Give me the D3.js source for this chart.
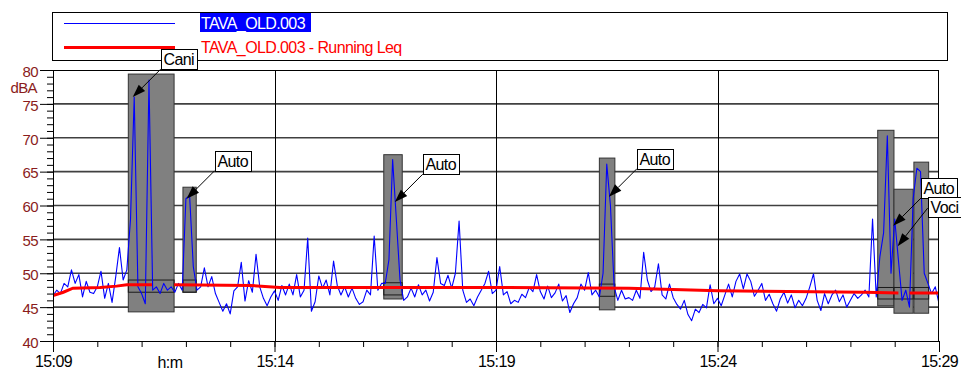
<!DOCTYPE html>
<html><head><meta charset="utf-8">
<script src="https://cdn.jsdelivr.net/npm/d3@7"></script>
<style>
body{margin:0;background:#fff}
svg{display:block}
text{font-family:'Liberation Sans',Arial,sans-serif}
</style>
</head><body><svg id="c" width="961" height="372"></svg>
<script>
// ---------------- DATA ----------------
const seriesName = "TAVA_OLD.003";
const leqName = "TAVA_OLD.003 - Running Leq";
const startClock = "15:09:00";
const endClock = "15:29:00";
const sampleSeconds = 5;
// LAeq samples (dBA), one per 5 s, per minute
const lv1509 = [46.7,47.5,47.0,48.5,48.0,50.5,48.5,49.8,46.5,48.8,47.2,47.0];
const lv1510 = [48.0,50.3,46.3,48.5,45.7,49.5,53.8,49.0,50.5,58.0,76.0,48.0];
const lv1511 = [47.0,45.5,78.5,47.5,48.0,47.0,48.5,47.5,48.0,47.2,48.5,47.5];
const lv1512 = [61.0,61.5,51.0,47.5,48.0,50.8,48.0,49.5,47.0,45.7,44.4,45.5];
const lv1513 = [44.0,47.4,48.0,51.6,45.9,48.9,47.2,52.8,48.0,46.3,45.2,46.5];
const lv1514 = [47.4,46.0,48.2,46.8,48.4,46.8,49.8,46.5,47.5,55.2,44.4,45.8];
const lv1515 = [49.6,47.8,49.0,46.8,51.8,48.2,46.8,48.0,46.5,47.8,46.3,45.4];
const lv1516 = [45.8,47.5,46.8,55.5,47.5,48.5,48.5,52.0,66.8,58.0,49.0,46.0];
const lv1517 = [46.5,47.8,46.5,48.3,46.8,47.5,45.9,47.2,52.3,48.5,48.2,49.7];
const lv1518 = [47.8,50.0,57.7,47.5,45.7,46.2,45.2,46.5,47.5,48.5,50.3,47.0];
const lv1519 = [47.5,51.0,46.8,47.3,45.5,46.0,45.7,46.9,46.4,47.9,47.3,49.8];
const lv1520 = [47.3,46.2,48.1,46.4,47.1,48.4,45.9,46.7,44.2,45.5,46.4,48.4];
const lv1521 = [47.5,50.1,46.8,47.5,46.5,50.0,66.1,60.0,48.0,46.0,47.5,46.2];
const lv1522 = [46.4,46.0,47.5,46.3,53.1,49.0,47.3,48.0,51.4,46.8,46.2,48.4];
const lv1523 = [46.4,45.4,44.7,46.0,43.9,43.0,44.7,44.2,45.4,44.9,48.3,45.5];
const lv1524 = [46.3,45.2,46.8,48.4,46.5,48.8,49.9,47.7,49.9,48.8,46.6,47.5];
const lv1525 = [48.5,46.0,46.9,45.5,44.4,46.2,47.2,45.6,46.8,44.9,46.0,45.2];
const lv1526 = [46.3,48.0,49.9,46.0,44.5,47.0,45.5,46.8,47.5,45.8,46.8,45.0];
const lv1527 = [46.0,47.0,46.3,46.8,47.5,46.5,58.0,46.5,52.5,56.0,70.3,50.0];
const lv1528 = [58.0,52.0,46.0,47.5,45.0,61.0,65.5,65.0,50.0,48.5,47.0,48.0];
const lv1529 = [45.5];

// Running Leq (seconds from start, dBA); null = excluded
const leqSeconds = [0,14,27,64,86,100,134,135,163,164,267,307,600,780,900,1100,1145,1146,1159,1160,1200];
const leqValues  = [46.7,47.2,47.8,47.9,48.1,48.3,48.3,null,null,48.3,48.2,47.9,47.9,47.8,47.4,47.2,47.1,null,null,47.1,47.1];

// Marked events
const eventNames  = ["Cani","Auto","Auto","Auto","Auto","Voci","Auto"];
const eventStarts = ["15:10:42","15:11:56","15:16:28","15:21:20","15:27:37","15:27:59","15:28:26"];
const eventEnds   = ["15:11:44","15:12:14","15:16:53","15:21:41","15:27:59","15:28:25","15:28:46"];
const eventMax    = [79.4,62.7,67.5,67.0,71.1,62.4,66.4];
const eventMin    = [44.3,47.2,46.2,44.6,45.2,44.1,44.1];
const eventLeqHi  = [49.0,49.0,48.6,48.4,47.9,47.9,47.9];
const eventLeqLo  = [47.2,47.2,46.8,46.6,46.2,46.2,46.2];

// Callout labels
const calloutLabels = ["Cani","Auto","Auto","Auto","Auto","Voci"];
const calloutTimes  = ["15:10:48","15:12:01","15:16:43","15:21:33","15:27:58","15:28:04"];
const calloutLevels = [76.0,61.0,60.5,61.3,57.0,54.0];

const yMajorTicks = [40,45,50,55,60,65,70,75,80];
const xLabelTicks = ["15:09","15:14","15:19","15:24","15:29"];
const yUnit = "dBA";
const xUnit = "h:m";

// ---------------- CHART ----------------
const parse = s => { const p = s.split(":").map(Number); return new Date(2000,0,1,p[0],p[1],p[2]||0); };
const t0 = parse(startClock), t1 = parse(endClock);
const levels = [].concat(lv1509,lv1510,lv1511,lv1512,lv1513,lv1514,lv1515,lv1516,lv1517,lv1518,lv1519,lv1520,lv1521,lv1522,lv1523,lv1524,lv1525,lv1526,lv1527,lv1528,lv1529);
const series = levels.map((v,i)=>({t:new Date(+t0 + i*sampleSeconds*1000), v}));
const leq = leqSeconds.map((s,i)=>({t:new Date(+t0 + s*1000), v:leqValues[i]}));

const L=53, R=939, T=70, B=341;
const x = d3.scaleTime().domain([t0,t1]).range([L,R]);
const y = d3.scaleLinear().domain([40,80]).range([B,T]);
const svg = d3.select("#c");
const darkRed = "#8a1c1c";
const FONT_ST = "-0.6px";

// legend
const lg = svg.append("g");
lg.append("rect").attr("x",52.5).attr("y",12.5).attr("width",895).attr("height",48)
  .attr("fill","#fff").attr("stroke","#000");
lg.append("line").attr("x1",64).attr("x2",175).attr("y1",23.5).attr("y2",23.5).attr("stroke","#0000ff").attr("stroke-width",1);
lg.append("rect").attr("x",200).attr("y",13).attr("width",111).attr("height",19).attr("fill","#0000ff");
lg.append("text").attr("x",201).attr("y",29).attr("fill","#fff").attr("font-size",16).attr("letter-spacing",FONT_ST).text(seriesName);
lg.append("line").attr("x1",64).attr("x2",175).attr("y1",47.5).attr("y2",47.5).attr("stroke","#ff0000").attr("stroke-width",3);
lg.append("text").attr("x",201).attr("y",53).attr("fill","#ff0000").attr("font-size",16).attr("letter-spacing",FONT_ST).text(leqName);

// plot background
svg.append("rect").attr("x",L).attr("y",T).attr("width",R-L).attr("height",B-T).attr("fill","#fff");

// horizontal grid
svg.append("g").selectAll("line").data(yMajorTicks.filter(v=>v>40&&v<80)).join("line")
  .attr("x1",L).attr("x2",R).attr("y1",d=>y(d)).attr("y2",d=>y(d))
  .attr("stroke","#404040").attr("stroke-width",1.6);
// vertical grid
const xLabDates = xLabelTicks.map(parse);
svg.append("g").selectAll("line").data(xLabDates.slice(1,-1)).join("line")
  .attr("x1",d=>Math.round(x(d))+0.5).attr("x2",d=>Math.round(x(d))+0.5).attr("y1",T).attr("y2",B)
  .attr("stroke","#000").attr("stroke-width",1);

// events
const evg = svg.append("g");
eventNames.forEach((n,i)=>{
  const xa = x(parse(eventStarts[i])), xb = x(parse(eventEnds[i]));
  evg.append("rect").attr("x",xa).attr("y",y(eventMax[i])).attr("width",xb-xa).attr("height",y(eventMin[i])-y(eventMax[i]))
    .attr("fill","#808080").attr("stroke","#333").attr("stroke-width",1);
  evg.append("rect").attr("x",xa).attr("y",y(eventLeqHi[i])).attr("width",xb-xa).attr("height",y(eventLeqLo[i])-y(eventLeqHi[i]))
    .attr("fill","none").attr("stroke","#1a1a1a").attr("stroke-width",1);
});

// clip
svg.append("clipPath").attr("id","pc").append("rect").attr("x",L).attr("y",T).attr("width",R-L).attr("height",B-T);

// blue series
svg.append("path").datum(series).attr("clip-path","url(#pc)")
  .attr("d",d3.line().x(d=>x(d.t)).y(d=>y(d.v)))
  .attr("fill","none").attr("stroke","#0000ff").attr("stroke-width",1.1).attr("stroke-linejoin","round");
// running leq
svg.append("path").datum(leq).attr("clip-path","url(#pc)")
  .attr("d",d3.line().defined(d=>d.v!=null).x(d=>x(d.t)).y(d=>y(d.v)))
  .attr("fill","none").attr("stroke","#ff0000").attr("stroke-width",3);

// frame
svg.append("rect").attr("x",L+0.5).attr("y",T+0.5).attr("width",R-L-1).attr("height",B-T)
  .attr("fill","none").attr("stroke","#000");

// y axis: minor + major
const yMinor = d3.range(40,81,1);
svg.append("g").attr("transform",`translate(${L},0)`)
  .call(d3.axisLeft(y).tickValues(yMinor).tickSize(6).tickFormat(""))
  .call(g=>{g.select(".domain").remove(); g.selectAll("line").attr("stroke","#000");});
const yax = svg.append("g").attr("transform",`translate(${L},0)`)
  .call(d3.axisLeft(y).tickValues(yMajorTicks).tickSize(13).tickPadding(2).tickFormat(d3.format("d")));
yax.select(".domain").attr("stroke","#000");
yax.selectAll("line").attr("stroke","#000");
yax.selectAll("text").attr("fill",darkRed).attr("font-size",15).attr("letter-spacing",FONT_ST)
  .attr("font-family","'Liberation Sans',Arial,sans-serif").attr("dy","0.42em");
svg.append("text").attr("x",37).attr("y",93).attr("text-anchor","end").attr("fill",darkRed)
  .attr("font-size",15).attr("letter-spacing",FONT_ST).text(yUnit);

// x axis
const xMinor = d3.range(0,21).map(m=>new Date(+t0 + m*60000));
svg.append("g").attr("transform",`translate(0,${B})`)
  .call(d3.axisBottom(x).tickValues(xMinor).tickSize(6).tickFormat(""))
  .call(g=>{g.select(".domain").remove(); g.selectAll("line").attr("stroke","#000");});
const xax = svg.append("g").attr("transform",`translate(0,${B})`)
  .call(d3.axisBottom(x).tickValues(xLabDates).tickSize(11).tickPadding(4).tickFormat(d3.timeFormat("%H:%M")));
xax.select(".domain").attr("stroke","#000");
xax.selectAll("line").attr("stroke","#000");
xax.selectAll("text").attr("fill","#000").attr("font-size",16).attr("letter-spacing",FONT_ST)
  .attr("font-family","'Liberation Sans',Arial,sans-serif");
svg.append("text").attr("x",170).attr("y",368).attr("text-anchor","middle").attr("fill","#000")
  .attr("font-size",16).attr("letter-spacing",FONT_ST).text(xUnit);

// callouts
const cg = svg.append("g");
calloutLabels.forEach((lab,i)=>{
  const tx = x(parse(calloutTimes[i])), ty = y(calloutLevels[i]);
  const isLast = i===calloutLabels.length-1;
  const sx = tx + (isLast?30:28), sy = ty + (isLast?-38:-28);
  const boxBottom = isLast ? sy+9 : sy;
  // arrow line
  const ang = Math.atan2(ty-sy, tx-sx);
  const hl = 13, hw = 4.5;
  const bx = tx - hl*Math.cos(ang), by = ty - hl*Math.sin(ang);
  cg.append("line").attr("x1",sx).attr("y1",sy).attr("x2",bx).attr("y2",by).attr("stroke","#000").attr("stroke-width",1);
  const px = -Math.sin(ang)*hw, py = Math.cos(ang)*hw;
  cg.append("path").attr("d",`M${tx},${ty}L${bx+px},${by+py}L${bx-px},${by-py}Z`).attr("fill","#000");
  const txt = cg.append("text").attr("font-size",16).attr("letter-spacing",FONT_ST).attr("fill","#000").text(lab);
  const w = txt.node().getComputedTextLength();
  cg.insert("rect","text").attr("x",Math.round(sx)+0.5).attr("y",Math.round(boxBottom-20)+0.5)
    .attr("width",Math.round(w+5)).attr("height",20).attr("fill","#fff").attr("stroke","#000");
  txt.attr("x",Math.round(sx)+2.5).attr("y",Math.round(boxBottom)-4);
});
</script>
</body></html>
